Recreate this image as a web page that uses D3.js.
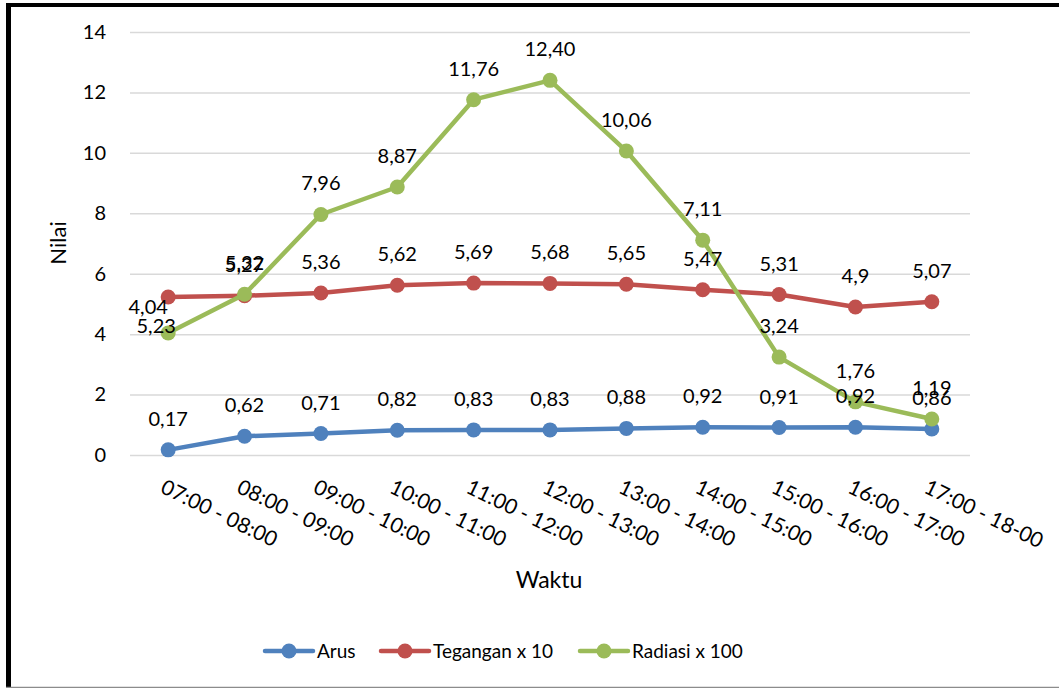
<!DOCTYPE html>
<html>
<head>
<meta charset="utf-8">
<script src="https://cdn.jsdelivr.net/npm/d3@7"></script>
<style>
  html, body { margin: 0; padding: 0; background: #fff; }
  svg { display: block; font-family: Lato, "Open Sans", sans-serif; }
</style>
</head>
<body>
<svg id="chart" width="1059" height="688"></svg>
<script>
// Hourly measurements
const categories = ["07:00 - 08:00", "08:00 - 09:00", "09:00 - 10:00", "10:00 - 11:00",
  "11:00 - 12:00", "12:00 - 13:00", "13:00 - 14:00", "14:00 - 15:00",
  "15:00 - 16:00", "16:00 - 17:00", "17:00 - 18-00"];
const arus     = [0.17, 0.62, 0.71, 0.82, 0.83, 0.83, 0.88, 0.92, 0.91, 0.92, 0.86];
const tegangan = [5.23, 5.27, 5.36, 5.62, 5.69, 5.68, 5.65, 5.47, 5.31, 4.90, 5.07];
const radiasi  = [4.04, 5.32, 7.96, 8.87, 11.76, 12.40, 10.06, 7.11, 3.24, 1.76, 1.19];
const tegLabels = ["5,23", "5,27", "5,36", "5,62", "5,69", "5,68", "5,65", "5,47", "5,31", "4,9", "5,07"];
const yTicks = [0, 2, 4, 6, 8, 10, 12, 14];

const series = [
  { name: "Arus", values: arus, color: "#4f81bd" },
  { name: "Tegangan x 10", values: tegangan, color: "#c0504d", labels: tegLabels },
  { name: "Radiasi x 100", values: radiasi, color: "#9bbb59" }
];

// label nudges for the crowded first column
const labelNudge = { "Tegangan x 10-0": [-12, 60], "Radiasi x 100-0": [-20, 5] };

const svg = d3.select("#chart");
const W = 1059, H = 688;
const m = { left: 130, right: 89, top: 32, bottom: 233 };

// frame
svg.append("rect").attr("x", 0).attr("y", 0).attr("width", W).attr("height", H).attr("fill", "#fff");
svg.append("line").attr("x1", 6).attr("x2", W).attr("y1", 5).attr("y2", 5)
  .attr("stroke", "#000").attr("stroke-width", 4);
svg.append("line").attr("x1", 8.5).attr("x2", 8.5).attr("y1", 3).attr("y2", H)
  .attr("stroke", "#000").attr("stroke-width", 5);
svg.append("line").attr("x1", 6).attr("x2", W).attr("y1", 687.5).attr("y2", 687.5)
  .attr("stroke", "#8c8c8c").attr("stroke-width", 1.5);

const x = d3.scaleBand().domain(categories).range([m.left, W - m.right]);
const y = d3.scaleLinear().domain([0, 14]).range([H - m.bottom, m.top]);
const cx = c => x(c) + x.bandwidth() / 2;

// gridlines + y axis labels
const yAxis = d3.axisLeft(y).tickValues(yTicks).tickSize(-(W - m.left - m.right)).tickPadding(24);
const gy = svg.append("g").attr("transform", `translate(${m.left},0)`).call(yAxis);
gy.select(".domain").remove();
gy.selectAll(".tick line").attr("stroke", "#d9d9d9").attr("stroke-width", 1.5);
gy.selectAll(".tick text").attr("font-size", 20).attr("fill", "#000").attr("font-family", "Lato, sans-serif");

// x axis labels (rotated)
const gx = svg.append("g");
gx.selectAll("text").data(categories).enter().append("text")
  .attr("transform", d => `translate(${cx(d) - 9},${492}) rotate(26)`)
  .attr("text-anchor", "start")
  .attr("font-size", 21)
  .attr("fill", "#000")
  .text(d => d);

// axis titles
svg.append("text").attr("x", 549).attr("y", 588).attr("text-anchor", "middle")
  .attr("font-size", 23).attr("fill", "#000").text("Waktu");
svg.append("text").attr("transform", `translate(66,243) rotate(-90)`).attr("text-anchor", "middle")
  .attr("font-size", 22).attr("fill", "#000").text("Nilai");

const fmt = v => d3.format(".2f")(v).replace(".", ",");
const line = d3.line().x((d, i) => cx(categories[i])).y(d => y(d));

series.forEach(s => {
  const g = svg.append("g");
  g.append("path").datum(s.values).attr("d", line)
    .attr("fill", "none").attr("stroke", s.color).attr("stroke-width", 4.5)
    .attr("stroke-linejoin", "round").attr("stroke-linecap", "round");
  g.selectAll("circle").data(s.values).enter().append("circle")
    .attr("cx", (d, i) => cx(categories[i])).attr("cy", d => y(d))
    .attr("r", 7.5).attr("fill", s.color);
});

// data labels
series.forEach(s => {
  svg.append("g").selectAll("text").data(s.values).enter().append("text")
    .attr("x", (d, i) => cx(categories[i]) + ((labelNudge[s.name + "-" + i] || [0, 0])[0]))
    .attr("y", (d, i) => y(d) - 24 + ((labelNudge[s.name + "-" + i] || [0, 0])[1]))
    .attr("text-anchor", "middle")
    .attr("font-size", 20)
    .attr("fill", "#000")
    .text((d, i) => s.labels ? s.labels[i] : fmt(d));
});

// legend
const legendItems = [
  { s: series[0], x: 265 },
  { s: series[1], x: 381 },
  { s: series[2], x: 580 }
];
const lg = svg.append("g");
legendItems.forEach(it => {
  const g = lg.append("g").attr("transform", `translate(${it.x},651)`);
  g.append("line").attr("x1", 0).attr("x2", 48).attr("y1", 0).attr("y2", 0)
    .attr("stroke", it.s.color).attr("stroke-width", 4.5).attr("stroke-linecap", "round");
  g.append("circle").attr("cx", 24).attr("cy", 0).attr("r", 7.5).attr("fill", it.s.color);
  g.append("text").attr("x", 52).attr("y", 7).attr("font-size", 19).attr("fill", "#000").text(it.s.name);
});
</script>
</body>
</html>
